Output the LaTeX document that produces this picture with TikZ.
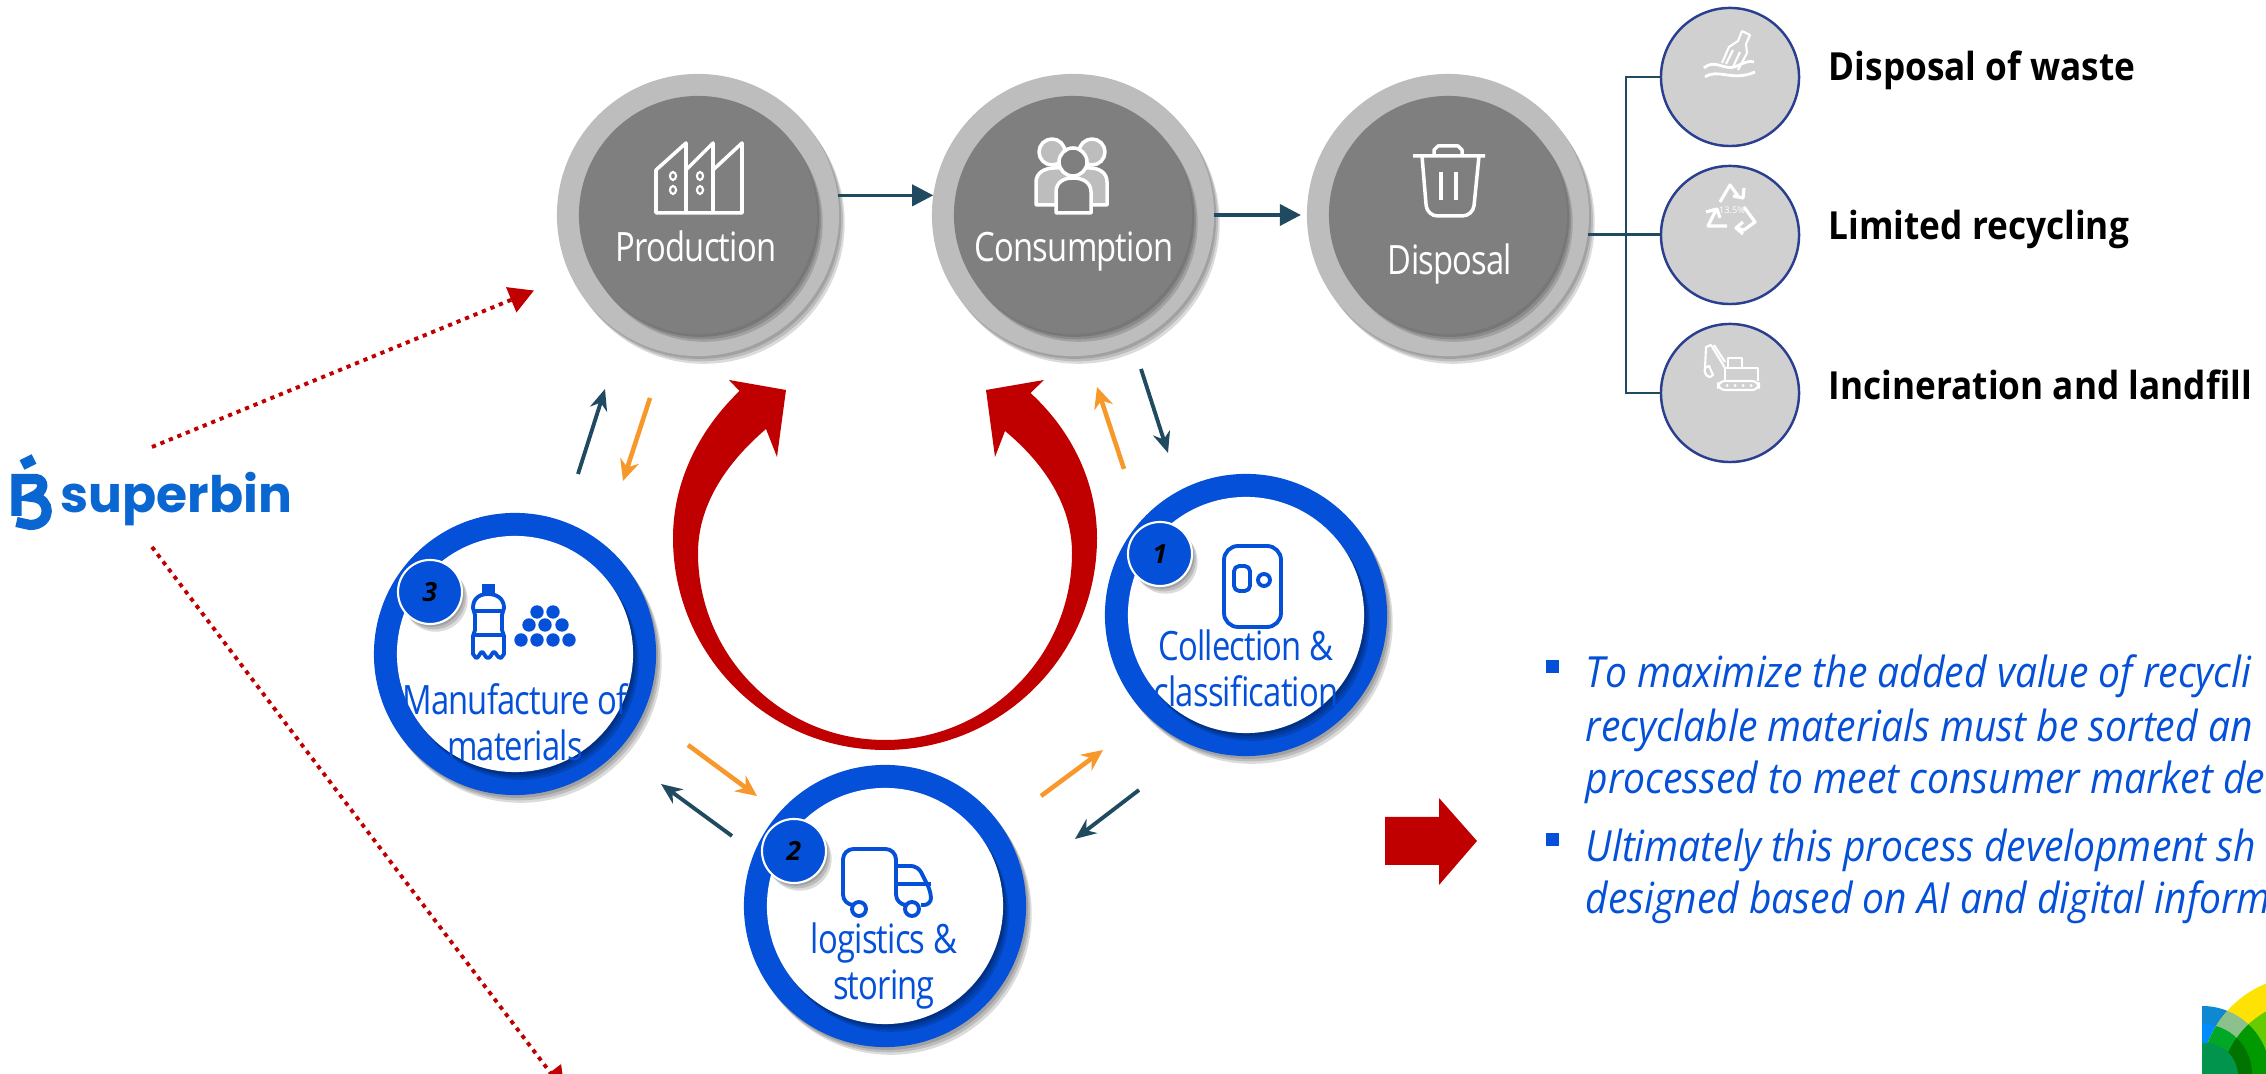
\documentclass[tikz,border=0pt]{standalone}
\usepackage{fontspec}
\setmainfont{Open Sans}
\newfontfamily\narrowfont[FakeStretch=0.81,LetterSpace=-2]{Open Sans}
\newfontfamily\notefont[FakeStretch=0.91,LetterSpace=0]{Open Sans}
\newfontfamily\boldfont[FakeStretch=0.91]{Open Sans}
\newfontfamily\logofont{Poppins}
\usetikzlibrary{arrows.meta,shadows}
\definecolor{ringblue}{HTML}{0450D8}
\definecolor{logoblue}{HTML}{0A66D0}
\definecolor{darkred}{HTML}{C00000}
\definecolor{navy}{HTML}{1F4A60}
\definecolor{amber}{HTML}{F7982A}
\definecolor{outergrey}{HTML}{BDBDBD}
\definecolor{innergrey}{HTML}{7F7F7F}
\definecolor{wastegrey}{HTML}{D0D0D0}
\definecolor{wasteline}{HTML}{2A3F8F}
\tikzset{
  softshadow/.style={
    drop shadow={shadow xshift=.6pt,shadow yshift=-.8pt,opacity=.14,fill=black},
    drop shadow={shadow xshift=1.1pt,shadow yshift=-1.5pt,opacity=.14,fill=black},
    drop shadow={shadow xshift=1.6pt,shadow yshift=-2.2pt,opacity=.14,fill=black}},
  outerdisc/.style={circle,fill=outergrey,minimum size=2.82cm,inner sep=0,outer sep=0,softshadow},
  innerdisc/.style={circle,fill=innergrey,minimum size=2.38cm,inner sep=0,outer sep=0,softshadow},
  ringdisc/.style={circle,fill=ringblue,minimum size=2.82cm,inner sep=0,outer sep=0,softshadow},
  holedisc/.style={circle,fill=white,minimum size=2.36cm,inner sep=0,outer sep=0,softshadow},
  badge/.style={circle,draw=white,fill=ringblue,line width=.6pt,minimum size=.64cm,inner sep=0,softshadow,font=\fontsize{7.5}{9}\selectfont\bfseries\itshape},
  wastedisc/.style={circle,draw=wasteline,fill=wastegrey,line width=.7pt,minimum size=1.38cm,inner sep=0,outer sep=0},
  wastetext/.style={anchor=base west,inner sep=0,font=\boldfont\fontsize{11}{13}\selectfont\bfseries},
  whitelabel/.style={anchor=base,inner sep=0,text=white,font=\narrowfont\fontsize{11.5}{13}\selectfont},
  bluelabel/.style={align=center,inner sep=0,text=ringblue,font=\narrowfont\fontsize{11.5}{13}\selectfont},
  notetext/.style={anchor=base west,inner sep=0,text=ringblue,font=\notefont\fontsize{12.2}{14}\selectfont\itshape},
  notemark/.style={rectangle,fill=ringblue,minimum size=.13cm,inner sep=0},
  mainarrow/.style={navy,line width=1pt,-{Triangle[length=6pt,width=6pt]}},
  darkarrow/.style={navy,line width=1.1pt,-{Stealth[length=6pt,width=5pt]}},
  amberarrow/.style={amber,line width=1.3pt,-{Stealth[length=6pt,width=5.5pt]}},
  dotarrow/.style={darkred,line width=1.1pt,dash pattern=on 1.2pt off 1.4pt,-{Triangle[length=7pt,width=7.5pt]}},
  whiteicon/.style={draw=white,line width=1pt,line join=round},
  paleicon/.style={draw=white,line width=.6pt,line join=round},
  blueicon/.style={draw=ringblue,line width=1.1pt,line join=round}
}
\begin{document}
\begin{tikzpicture}[x=0.01cm,y=-0.01cm]
\useasboundingbox (0,0) rectangle (2266,1074);
\foreach \n/\x in {P/698,C/1073,D/1448} {
  \node[outerdisc] (\n) at (\x,215) {};
  \node[innerdisc] (\n i) at (\x,215) {};
}
\node[whitelabel] (Pt) at (696,262) {Production};
\node[whitelabel] (Ct) at (1074,262) {Consumption};
\node[whitelabel] (Dt) at (1450,275) {Disposal};
\draw[mainarrow] (P.8) -- (C.172);
\draw[mainarrow,shorten >=.06cm] (C.east) -- (D.west);
\foreach \y [count=\j from 1] in {77,235,393} \node[wastedisc] (W\j) at (1730,\y) {};
\coordinate (b) at (1626,235);
\draw[navy,line width=1pt] (D.-8) -- (D.-8-|W2.west);
\draw[navy,line width=.8pt] (W1.west) -- (W1.west-|b) -- (W3.west-|b) -- (W3.west);
\foreach \y/\t [count=\j from 1] in {81/Disposal of waste,240/Limited recycling,400/Incineration and landfill} \node[wastetext] (L\j) at (1828,\y) {\t};
\fill[darkred] (729,380) -- (786,390) -- (777,457) -- (766,429) .. controls (724,465) and (698,507) .. (698,553) .. controls (698,656) and (782,740) .. (885,740) .. controls (988,740) and (1072,656) .. (1072,553) .. controls (1072,507) and (1046,465) .. (1005,431) -- (995,457) -- (986,390) -- (1044,380) -- (1030.5,393) .. controls (1073,432) and (1097,484) .. (1097,538) .. controls (1097,655) and (1002,750) .. (885,750) .. controls (768,750) and (673,655) .. (673,538) .. controls (673,484) and (697,432) .. (739.5,391) -- cycle;
\foreach \n/\x/\y in {R1/1246/615,R2/885/906,R3/515/654} {
  \node[ringdisc] (\n) at (\x,\y) {};
  \node[holedisc] (\n h) at (\x,\y) {};
}
\node[badge] (B1) at (1160,554) {1};
\node[badge] (B2) at (794,851) {2};
\node[badge] (B3) at (430,592) {3};
\node[bluelabel] (T1) at (1246,668) {Collection \&\\classification};
\node[bluelabel] (T2) at (884,966) {logistics \&\\storing};
\node[bluelabel] (T3) at (515,722) {Manufacture of\\materials};
\foreach \n/\x/\y in {ma/578/474,na/605/389,mb/1141/369,nb/1168/453,mc/1139/790,nc/1075/839,md/732/836,nd/661/784,oa/650/398,ob/623/481,oc/1124/469,od/1097/387,oe/688/745,of/757/796,og/1041/796,oh/1103/750,sa/152/447,ta/534/290.5,sb/152/547,tb/565/1092} \coordinate (\n) at (\x,\y);
\foreach \a/\b in {ma/na,mb/nb,mc/nc,md/nd} \draw[darkarrow] (\a) -- (\b);
\foreach \a/\b in {oa/ob,oc/od,oe/of,og/oh} \draw[amberarrow] (\a) -- (\b);
\foreach \a/\b in {sa/ta,sb/tb} \draw[dotarrow] (\a) -- (\b);
\node[anchor=base west,inner sep=0,text=logoblue,font=\logofont\fontsize{14.3}{16}\selectfont\bfseries] (S) at (60,513) {superbin};
\draw[logoblue,line width=3pt] (22,465) -- (34,459);
\draw[logoblue,line width=2.9pt] (16.5,516) -- (16.5,479) -- (36,479) .. controls (45,480) and (45,492) .. (32,497) .. controls (52,498) and (52,525) .. (30,525) -- (16.5,522);
\fill[darkred] (1385,817) -- (1439,817) -- (1439,798) -- (1477,841) -- (1439,885) -- (1439,865) -- (1385,865) -- cycle;
\foreach \y/\t [count=\j from 1] in {688/To maximize the added value of recycli,742/recyclable materials must be sorted an,794/processed to meet consumer market de,862/Ultimately this process development sh,914/designed based on AI and digital inform} \node[notetext] (N\j) at (1585,\y) {\t};
\node[notemark] (M1) at (1552.5,666.5) {};
\node[notemark] (M2) at (1552.5,839.5) {};
% factory
\draw[whiteicon] (656,170) -- (686,143) -- (686,170) -- (713,143) -- (713,170) -- (742,143) -- (742,213) -- (656,213) -- cycle (686,170) -- (686,213) (713,170) -- (713,213);
\foreach \x in {673,700} \foreach \y in {176,190} \draw[paleicon,rounded corners=1pt] (\x-3,\y-4) rectangle (\x+3,\y+4);
% people
\draw[whiteicon,fill=outergrey] (1052,152) circle (13) (1092,152) circle (13);
\draw[whiteicon,fill=outergrey] (1036,205) -- (1036,182) .. controls (1036,172) and (1046,168) .. (1054,168) -- (1090,168) .. controls (1098,168) and (1107,172) .. (1107,182) -- (1107,205) -- cycle;
\draw[whiteicon,fill=innergrey] (1073,162) circle (14);
\draw[whiteicon,fill=innergrey] (1056,213) -- (1056,192) .. controls (1056,182) and (1064,178) .. (1073,178) .. controls (1082,178) and (1091,182) .. (1091,192) -- (1091,213) -- cycle;
% bin
\draw[whiteicon] (1413,156) -- (1485,156) (1434,155) -- (1434,150) -- (1438,146) -- (1458,146) -- (1462,150) -- (1462,155);
\draw[whiteicon,rounded corners=3pt] (1422,156) -- (1427,216) -- (1473,216) -- (1479,156);
\draw[whiteicon] (1441,172) -- (1441,200) (1456,172) -- (1456,200);
% bottle at sea
\draw[paleicon] (1742,31) -- (1750,35) -- (1746,44) -- (1747,53) -- (1738,70) (1742,31) -- (1738,41) -- (1729,47) -- (1722,63) (1733,50) -- (1726,64) (1740,52) -- (1733,67);
\draw[paleicon,line width=.8pt] (1704,68) .. controls (1715,58) and (1725,72) .. (1737,66) .. controls (1743,63) and (1750,60) .. (1754,62) (1705,77) .. controls (1718,68) and (1732,82) .. (1755,72);
% recycle
\draw[paleicon,line width=.9pt] (1720,202) -- (1730,185) -- (1738,196) (1744,188) -- (1743,198) -- (1733,196);
\draw[paleicon,line width=.9pt] (1727,226) -- (1708,226) -- (1716,210) (1706,212) -- (1717,209) -- (1720,218);
\draw[paleicon,line width=.9pt] (1744,207) -- (1755,222) -- (1744,230) -- (1736,228) (1743,222) -- (1736,228) -- (1743,234);
\node[inner sep=0,text=white,font=\fontsize{2.6}{3}\selectfont] (pct) at (1732,210) {13.5\%};
% digger
\draw[paleicon,rounded corners=2pt] (1718,381) rectangle (1759,390);
\draw[paleicon] (1725,381) -- (1725,368) -- (1758,368) -- (1758,381) (1728,368) -- (1728,358) -- (1742,358) -- (1742,368);
\draw[paleicon] (1725,368) -- (1711,345) -- (1706,347) -- (1705,368) (1725,362) -- (1714,345) (1705,368) .. controls (1703,375) and (1710,380) .. (1713,375) -- (1709,366) -- cycle;
\foreach \x in {1727,1735,1743,1751} \fill[white] (\x,385.5) circle (1.5);
% kiosk
\draw[blueicon,rounded corners=4pt] (1224,546) rectangle (1281,627);
\draw[blueicon,rounded corners=1.5pt] (1234,566) rectangle (1250,591);
\draw[blueicon] (1264,580) circle (6);
% truck
\draw[blueicon,rounded corners=3pt] (851,905) -- (843,905) -- (843,849) -- (896,849) -- (896,905) -- (903,905);
\draw[blueicon,rounded corners=2pt] (896,866) -- (918,866) -- (931,892) -- (931,905) -- (921,905);
\draw[blueicon] (896,884) -- (931,884);
\draw[blueicon] (859,909) circle (7) (912,909) circle (7);
% plastic
\fill[ringblue] (482,584) rectangle (495,593);
\draw[blueicon] (473,608) .. controls (473,598) and (480,594) .. (488,594) .. controls (496,594) and (504,598) .. (504,608) -- (502,615) -- (502,630) -- (504,636) -- (504,654) -- (501,658) .. controls (497,658) and (496,652) .. (494,652) .. controls (492,652) and (491,658) .. (488,658) .. controls (485,658) and (484,652) .. (482,652) .. controls (480,652) and (479,658) .. (476,658) -- (473,654) -- (473,636) -- (475,630) -- (475,615) -- cycle (473,611) -- (504,611) (474,635) -- (504,635);
\foreach \x/\y in {521/640,537/640,553/640,569/640,529/625,545/625,562/625,537/612,553/612} \fill[ringblue] (\x,\y) circle (6.7);
% corner mark
\begin{scope}
\clip (2202,970) rectangle (2266,1074);
\fill[cyan!70!blue] (2202,1074) circle (68);
\fill[blue!45!cyan] (2202,1074) circle (50);
\fill[yellow!85!orange] (2305,1080) circle (104);
\fill[green!50!yellow!80!black] (2310,1090) circle (90);
\begin{scope}
\clip (2305,1080) circle (104);
\fill[green!45!black!45!white] (2202,1074) circle (68);
\fill[green!60!black!85!cyan] (2202,1074) circle (50);
\end{scope}
\begin{scope}
\clip (2310,1090) circle (90);
\fill[green!60!black] (2202,1074) circle (68);
\fill[green!45!black] (2202,1074) circle (50);
\end{scope}
\fill[black!60!green!70!cyan] (2205,1076) circle (33);
\end{scope}
\end{tikzpicture}
\end{document}
